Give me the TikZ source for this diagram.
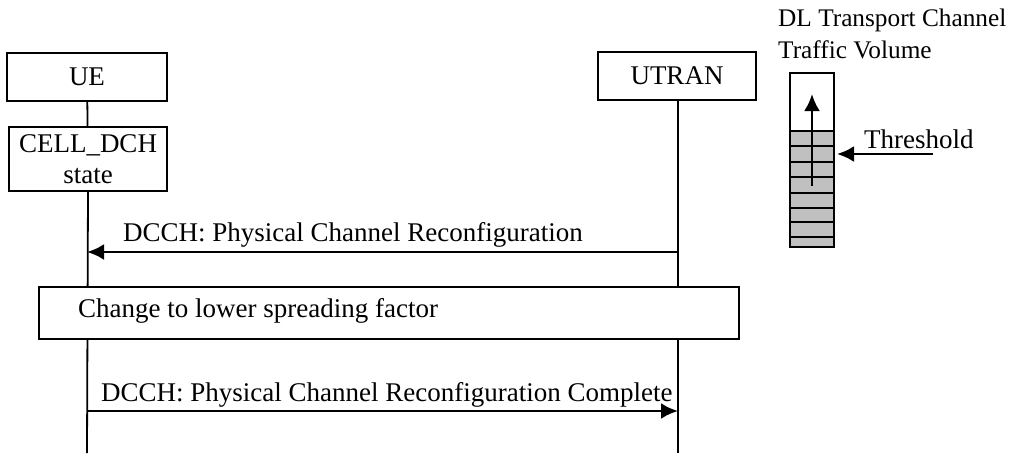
\documentclass[tikz,border=0pt]{standalone}
\usepackage{fontspec}
\setmainfont{Liberation Serif}
\usetikzlibrary{arrows.meta}
\definecolor{fillgrey}{RGB}{192,192,192}
\begin{document}
\begin{tikzpicture}[x=1pt, y=-1pt, >={Latex[length=17pt,width=16pt]},
  every node/.style={font=\fontsize{27}{31}\selectfont},
  box/.style={draw, line width=1.8pt, inner sep=0pt},
  life/.style={line width=1.8pt},
  msg/.style={line width=2.8pt}]
\useasboundingbox (0,0) rectangle (1010,453);
% entities
\node[box, minimum width=160pt, minimum height=48pt](ue) at (87,77){UE};
\node[box, minimum width=158pt, minimum height=64pt, align=center](cell) at (88,159){CELL\_DCH\\state};
\node[box, minimum width=158pt, minimum height=48pt](utran) at (677,76){UTRAN};
\coordinate (ueend) at (87,453);
\coordinate (utranend) at (678,453);
\draw[life](ue)--(cell);
\draw[life](cell.south)--(ueend);
\draw[life](utran.south-|utranend)--(utranend);
% messages
\coordinate (m1from) at (678,252);
\coordinate (m1to) at (87,252);
\draw[msg,->](m1from)--(m1to);
\node[anchor=base west, inner sep=0pt](m1label) at (123,241){DCCH: Physical Channel Reconfiguration};
\node[box, fill=white, minimum width=700pt, minimum height=52pt, anchor=north west](change) at (38,286){};
\node[anchor=base west, inner sep=0pt](changelabel) at (78,317){Change to lower spreading factor};
\coordinate (m2from) at (87,411);
\coordinate (m2to) at (678,411);
\draw[msg,->](m2from)--(m2to);
\node[anchor=base west, inner sep=0pt](m2label) at (101,401){DCCH: Physical Channel Reconfiguration Complete};
% traffic volume
\node[anchor=north west, align=left, inner sep=0pt, font=\fontsize{25.3}{32}\selectfont](tvlabel) at (778,9){DL Transport Channel\\Traffic Volume};
\fill[fillgrey](790,131) rectangle (834,247);
\foreach \y in {146,162,177,193,208,222,237}
  \draw[line width=1.4pt](790,\y)--(834,\y);
\draw[line width=1.4pt](790,131)--(834,131);
\draw[line width=1.8pt](790,73) rectangle (834,247);
\coordinate (volfrom) at (812,186);
\coordinate (volto) at (812,94);
\draw[msg,->](volfrom)--(volto);
\node[anchor=base west, inner sep=0pt](thlabel) at (864,148){Threshold};
\coordinate (thfrom) at (933,154);
\coordinate (thto) at (837,154);
\draw[msg,->](thfrom)--(thto);
\end{tikzpicture}
\end{document}
